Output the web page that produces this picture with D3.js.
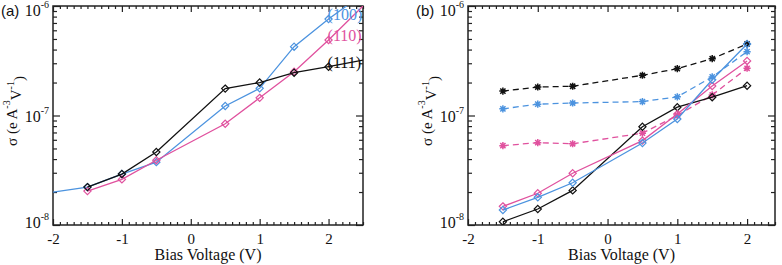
<!DOCTYPE html>
<html>
<head>
<meta charset="utf-8">
<script src="https://cdn.jsdelivr.net/npm/d3@7"></script>
<style>
  body { margin: 0; background: #fff; }
  svg { display: block; }
  .serif, .tick text { font-family: 'Liberation Serif', 'Times New Roman', 'DejaVu Serif', serif; fill: #111; }
</style>
</head>
<body>
<svg width="782" height="265"></svg>
<script>
// Bias voltages where markers sit
const volts = [-1.5, -1, -0.5, 0.5, 1, 1.5, 2];

// Panel (a) values, sigma in e A^-3 V^-1
const a100 = [2.22e-8, 2.92e-8, 3.75e-8, 1.22e-7, 1.77e-7, 4.25e-7, 7.6e-7];
const a110 = [2.04e-8, 2.61e-8, 3.9e-8, 8.4e-8, 1.45e-7, 2.51e-7, 4.89e-7];
const a111 = [2.22e-8, 2.92e-8, 4.64e-8, 1.76e-7, 2.0e-7, 2.46e-7, 2.79e-7];
// line continuations past the markers in panel (a) (no markers there)
const tailVolts = [-2, 2.5];
const a100tail = [2.0e-8, 1.29e-6];
const a110tail = [null, 1.0e-6];
const a111tail = [null, 3.2e-7];

// Panel (b), solid (diamond) and dashed (star) series
const b111 = [1.07e-8, 1.4e-8, 2.07e-8, 7.9e-8, 1.19e-7, 1.47e-7, 1.87e-7];
const b100 = [1.37e-8, 1.79e-8, 2.43e-8, 5.6e-8, 9.3e-8, 2.12e-7, 4.5e-7];
const b110 = [1.48e-8, 1.95e-8, 2.97e-8, 5.9e-8, 1.03e-7, 1.86e-7, 3.15e-7];
const b111d = [1.67e-7, 1.82e-7, 1.85e-7, 2.33e-7, 2.68e-7, 3.3e-7, 4.5e-7];
const b100d = [1.15e-7, 1.27e-7, 1.3e-7, 1.34e-7, 1.48e-7, 2.25e-7, 3.83e-7];
const b110d = [5.3e-8, 5.65e-8, 5.52e-8, 6.9e-8, 1.0e-7, 1.54e-7, 2.7e-7];

const xTicks = [-2, -1, 0, 1, 2];
const yTicks = [1e-8, 1e-7, 1e-6];
const yTickLabels = ["-8", "-7", "-6"];
const seriesLabels = ["(100)", "(110)", "(111)"];

const BLUE = "#4c93df", PINK = "#e0519e", BLACK = "#111";

const svg = d3.select("svg");
const yTop = 6, yBottom = 225;

const y = d3.scaleLog().domain([1e-8, 1e-6]).range([yBottom, yTop]);

function zip(xs, ys) {
  return xs.map((v, i) => ({ v: v, s: ys[i] })).filter(d => d.s != null);
}

const panels = [
  {
    tag: "(a)", left: 53, right: 363, xDomain: [-2, 2.5],
    series: [
      { vals: a100, tail: a100tail, color: BLUE, dash: null, mark: "diamond" },
      { vals: a110, tail: a110tail, color: PINK, dash: null, mark: "diamond" },
      { vals: a111, tail: a111tail, color: BLACK, dash: null, mark: "diamond" }
    ]
  },
  {
    tag: "(b)", left: 468, right: 775, xDomain: [-2, 2.4],
    series: [
      { vals: b111d, color: BLACK, dash: "6,4", mark: "star" },
      { vals: b100d, color: BLUE, dash: "6,4", mark: "star" },
      { vals: b110d, color: PINK, dash: "6,4", mark: "star" },
      { vals: b111, color: BLACK, dash: null, mark: "diamond" },
      { vals: b110, color: PINK, dash: null, mark: "diamond" },
      { vals: b100, color: BLUE, dash: null, mark: "diamond" }
    ]
  }
];

const diamond = "M0,-3.6L3.6,0L0,3.6L-3.6,0Z";
const star = "M-3.6,0H3.6M0,-3.6V3.6M-2.6,-2.6L2.6,2.6M-2.6,2.6L2.6,-2.6";

panels.forEach((p, pi) => {
  const x = d3.scaleLinear().domain(p.xDomain).range([p.left, p.right]);
  const g = svg.append("g");

  const minorX = d3.range(p.xDomain[0], p.xDomain[1] + 1e-9, 0.1)
    .filter(v => Math.abs(v - Math.round(v)) > 1e-6);
  const minorY = [];
  [1e-8, 1e-7].forEach(d => { for (let k = 2; k <= 9; k++) minorY.push(d * k); });

  // bottom axis with labels
  const xb = g.append("g").attr("transform", `translate(0,${yBottom})`)
    .call(d3.axisBottom(x).tickValues(xTicks).tickSizeInner(-6).tickSizeOuter(0)
      .tickPadding(8).tickFormat(d3.format("d")));
  xb.selectAll(".tick text").attr("font-size", 15).text(d => d < 0 ? "-" + Math.abs(d) : d);
  g.append("g").attr("transform", `translate(0,${yBottom})`)
    .call(d3.axisBottom(x).tickValues(minorX).tickSizeInner(-3).tickSizeOuter(0).tickFormat(""));
  // top axis ticks
  g.append("g").attr("transform", `translate(0,${yTop})`)
    .call(d3.axisTop(x).tickValues(xTicks).tickSizeInner(-6).tickSizeOuter(0).tickFormat(""));
  g.append("g").attr("transform", `translate(0,${yTop})`)
    .call(d3.axisTop(x).tickValues(minorX).tickSizeInner(-3).tickSizeOuter(0).tickFormat(""));

  // left axis with 10^n labels
  const labelShift = ["0.15em", "0.4em", "0.62em"];
  const yl = g.append("g").attr("transform", `translate(${p.left},0)`)
    .call(d3.axisLeft(y).tickValues(yTicks).tickSizeInner(-7).tickSizeOuter(0)
      .tickPadding(4).tickFormat(""));
  yl.selectAll(".tick text").each(function(d, i) {
    const t = d3.select(this).attr("font-size", 16).attr("dy", labelShift[i]);
    t.append("tspan").text("10");
    t.append("tspan").attr("font-size", 10).attr("dy", "-0.8em").text(yTickLabels[i]);
  });
  g.append("g").attr("transform", `translate(${p.left},0)`)
    .call(d3.axisLeft(y).tickValues(minorY).tickSizeInner(-4).tickSizeOuter(0).tickFormat(""));
  // right axis ticks
  g.append("g").attr("transform", `translate(${p.right},0)`)
    .call(d3.axisRight(y).tickValues(yTicks).tickSizeInner(-7).tickSizeOuter(0).tickFormat(""));
  g.append("g").attr("transform", `translate(${p.right},0)`)
    .call(d3.axisRight(y).tickValues(minorY).tickSizeInner(-4).tickSizeOuter(0).tickFormat(""));

  g.selectAll(".domain").remove();
  g.selectAll(".tick line").attr("stroke", "#222").attr("stroke-width", 1.2);

  // frame
  g.append("rect")
    .attr("x", p.left).attr("y", yTop)
    .attr("width", p.right - p.left).attr("height", yBottom - yTop)
    .attr("fill", "none").attr("stroke", "#222").attr("stroke-width", 1.5);

  // clip
  const clipId = "clip" + pi;
  svg.append("clipPath").attr("id", clipId).append("rect")
    .attr("x", p.left).attr("y", yTop)
    .attr("width", p.right - p.left).attr("height", yBottom - yTop);

  const line = d3.line().x(d => x(d.v)).y(d => y(d.s));
  const plot = g.append("g").attr("clip-path", `url(#${clipId})`);

  p.series.forEach(s => {
    let pts = zip(volts, s.vals);
    if (s.tail) {
      const t = zip(tailVolts, s.tail);
      pts = t.filter(d => d.v < 0).concat(pts, t.filter(d => d.v > 0));
    }
    plot.append("path")
      .attr("d", line(pts))
      .attr("fill", "none")
      .attr("stroke", s.color)
      .attr("stroke-width", 1.3)
      .attr("stroke-dasharray", s.dash);

    plot.selectAll(null).data(zip(volts, s.vals)).enter().append("path")
      .attr("transform", d => `translate(${x(d.v)},${y(d.s)})`)
      .attr("d", s.mark === "diamond" ? diamond : star)
      .attr("fill", "none")
      .attr("stroke", s.color)
      .attr("stroke-width", s.mark === "diamond" ? 1.2 : 1.5);
  });

  // axis titles
  g.append("text")
    .attr("class", "serif")
    .attr("x", (p.left + p.right) / 2).attr("y", 260)
    .attr("text-anchor", "middle")
    .attr("font-size", 16)
    .text("Bias Voltage (V)");

  const yt = g.append("text")
    .attr("class", "serif")
    .attr("transform", `translate(${p.left - 36},111) rotate(-90)`)
    .attr("text-anchor", "middle")
    .attr("font-size", 15);
  yt.append("tspan").text("σ (e A");
  yt.append("tspan").attr("font-size", 10).attr("dy", "-0.7em").text("-3");
  yt.append("tspan").attr("dy", "0.7em").text("V");
  yt.append("tspan").attr("font-size", 10).attr("dy", "-0.7em").text("-1");
  yt.append("tspan").attr("dy", "0.7em").text(")");

  // panel tag
  g.append("text")
    .attr("x", p.left - 52).attr("y", 16)
    .attr("font-family", "'Liberation Sans', Arial, sans-serif").attr("font-size", 15)
    .attr("fill", "#111")
    .text(p.tag);

  // series labels for panel (a)
  if (pi === 0) {
    const labelColors = [BLUE, PINK, BLACK];
    const labelVals = [a100[6], a110[6], a111[6]];
    seriesLabels.forEach((lab, i) => {
      g.append("text")
        .attr("class", "serif")
        .attr("x", x(2) - 1).attr("y", y(labelVals[i]) + 1)
        .attr("font-size", 16)
        .style("fill", labelColors[i])
        .text(lab);
    });
  }
});
</script>
</body>
</html>
